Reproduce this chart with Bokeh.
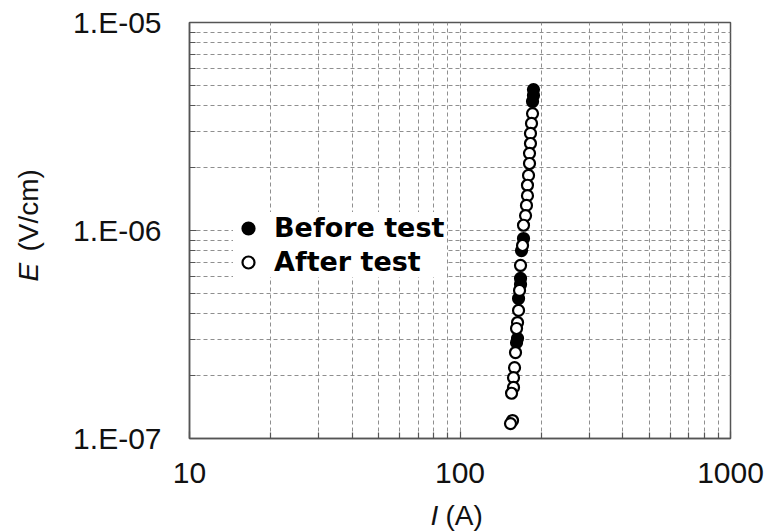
from bokeh.plotting import figure
from bokeh.models import FixedTicker, Legend, LegendItem, Label, CustomJSTickFormatter
from bokeh.embed import file_html
from bokeh.resources import INLINE
import math

# ---- data ----
before_I = [186.9, 186.9, 185.4, 171.7, 168.8, 167.4, 167.4, 164.6, 163.2, 161.8]
before_E = [4.76e-6, 4.46e-6, 4.17e-6, 9.15e-7, 8.01e-7, 5.88e-7, 5.50e-7, 4.71e-7, 3.03e-7, 2.89e-7]

after_I = [185.4, 183.8, 182.2, 182.2, 180.7, 180.7, 179.2, 177.6, 177.6, 176.1,
           174.7, 171.7, 170.3, 167.4, 166.0, 164.6, 163.2, 161.8, 160.4, 159.1,
           157.7, 157.7, 155.1, 156.4, 153.7]
after_E = [3.65e-6, 3.27e-6, 2.93e-6, 2.62e-6, 2.35e-6, 2.10e-6, 1.84e-6, 1.65e-6, 1.47e-6, 1.32e-6,
           1.18e-6, 1.06e-6, 8.47e-7, 6.79e-7, 5.15e-7, 4.13e-7, 3.61e-7, 3.38e-7, 2.59e-7, 2.19e-7,
           1.96e-7, 1.76e-7, 1.65e-7, 1.22e-7, 1.18e-7]

x_ticks = [10, 100, 1000]
x_tick_labels = ["10", "100", "1000"]
y_ticks = [1e-7, 1e-6, 1e-5]
y_tick_labels = ["1.E-07", "1.E-06", "1.E-05"]
x_minor = [20, 30, 40, 50, 60, 70, 80, 90, 200, 300, 400, 500, 600, 700, 800, 900]
y_minor = [2e-7, 3e-7, 4e-7, 5e-7, 6e-7, 7e-7, 8e-7, 9e-7,
           2e-6, 3e-6, 4e-6, 5e-6, 6e-6, 7e-6, 8e-6, 9e-6]
series_labels = ["Before test", "After test"]

AX = "#555555"
GRID = "#8f8f8f"
FONT = "Liberation Sans"

p = figure(width=774, height=532, x_axis_type="log", y_axis_type="log",
           x_range=(10, 1000), y_range=(1e-7, 1e-5),
           output_backend="svg", toolbar_location=None,
           min_border_left=189, min_border_right=44, min_border_top=22, min_border_bottom=94)
p.background_fill_color = "white"
p.border_fill_color = "white"
p.outline_line_color = AX
p.outline_line_width = 1.5

xt = FixedTicker(ticks=x_ticks, minor_ticks=x_minor)
yt = FixedTicker(ticks=y_ticks, minor_ticks=y_minor)
p.xaxis.ticker = xt
p.yaxis.ticker = yt
p.xgrid.ticker = xt
p.ygrid.ticker = yt

fmt_code = """
let best = 0, bd = Infinity;
for (let i = 0; i < tvals.length; i++) {
  const d = Math.abs(Math.log10(tick) - Math.log10(tvals[i]));
  if (d < bd) { bd = d; best = i; }
}
return tlabels[best];
"""
p.xaxis.formatter = CustomJSTickFormatter(args=dict(tvals=x_ticks, tlabels=x_tick_labels), code=fmt_code)
p.yaxis.formatter = CustomJSTickFormatter(args=dict(tvals=y_ticks, tlabels=y_tick_labels), code=fmt_code)

for ax in (p.xaxis, p.yaxis):
    ax.axis_line_color = AX
    ax.axis_line_width = 1.5
    ax.major_tick_line_color = AX
    ax.minor_tick_line_color = AX
    ax.major_tick_line_width = 1.2
    ax.minor_tick_line_width = 1.2
    ax.major_tick_in = 7
    ax.major_tick_out = 0
    ax.minor_tick_in = 6
    ax.minor_tick_out = 0
    ax.major_label_text_font = FONT
    ax.major_label_text_font_size = "30px"
    ax.major_label_text_color = "#111111"
    ax.axis_label = None
p.xaxis.major_label_standoff = 24
p.yaxis.major_label_standoff = 28

for g in (p.xgrid, p.ygrid):
    g.grid_line_color = GRID
    g.grid_line_dash = "4 3"
    g.grid_line_width = 1
    g.minor_grid_line_color = GRID
    g.minor_grid_line_dash = "4 3"
    g.minor_grid_line_width = 1

r_before = p.scatter(before_I, before_E, size=11, fill_color="black", line_color="black", line_width=2.2)
r_after = p.scatter(after_I, after_E, size=11, fill_color="white", line_color="black", line_width=2.2)

legend = Legend(items=[LegendItem(label=series_labels[0], renderers=[r_before]),
                       LegendItem(label=series_labels[1], renderers=[r_after])],
                location=(44, 161), glyph_width=30, glyph_height=30, spacing=3,
                padding=8, margin=0, label_standoff=11, label_width=173, label_height=30,
                label_text_font="DejaVu Sans", label_text_font_style="bold",
                label_text_font_size="27px", label_text_color="black",
                border_line_color=None, background_fill_color="white", background_fill_alpha=1)
p.add_layout(legend)

# axis titles with italic symbols (canvas pixel positions, hosted in side panels with spare room)
lab_kw = dict(x_units="canvas", y_units="canvas", text_font=FONT, text_font_size="28px",
              text_color="#111111", text_baseline="middle", text_align="left")
p.add_layout(Label(x=28, y=281, text="E", angle=math.pi / 2, text_font_style="italic", **lab_kw), "left")
p.add_layout(Label(x=28, y=251, text="(V/cm)", angle=math.pi / 2, **lab_kw), "left")
p.add_layout(Label(x=430, y=515, text="I", text_font_style="italic", **lab_kw), "below")
p.add_layout(Label(x=445, y=515, text="(A)", **lab_kw), "right")

open("out.html", "w").write(file_html(p, INLINE))
